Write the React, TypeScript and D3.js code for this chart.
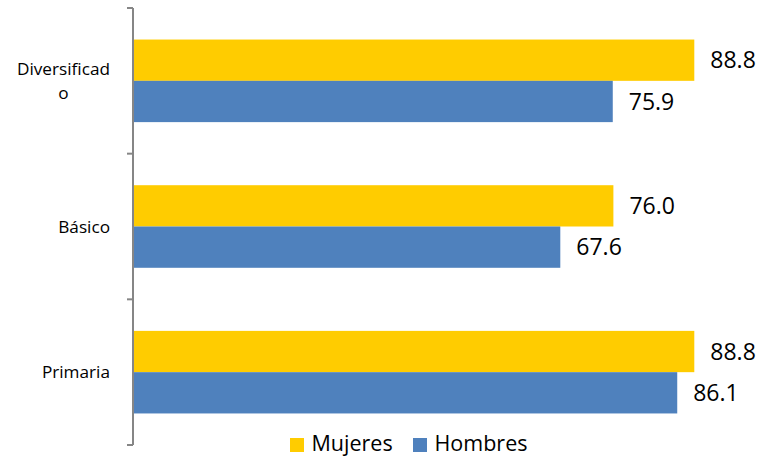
import React, { useEffect, useRef } from "react";
import * as d3 from "d3";

const categories = ["Diversificado", "Básico", "Primaria"];
const categoryLines = [["Diversificad", "o"], ["Básico"], ["Primaria"]];
const seriesNames = ["Mujeres", "Hombres"];
const mujeres = [88.8, 76.0, 88.8];
const hombres = [75.9, 67.6, 86.1];
const seriesColors = ["#FFCC00", "#4F81BD"];

const W = 759;
const H = 457;

export default function App() {
  const ref = useRef<SVGSVGElement>(null);
  useEffect(() => {
    const svg = d3.select(ref.current);
    svg.selectAll("*").remove();
    const x0 = 133;
    const x = d3.scaleLinear().domain([0, 88.8]).range([x0, 694.3]);
    const y = d3.scaleBand<string>().domain(categories).range([8, 445]).padding(0);
    const sub = d3
      .scaleBand<string>()
      .domain(seriesNames)
      .range([0, y.bandwidth()])
      .paddingInner(0)
      .paddingOuter(0.764);
    const values = [mujeres, hombres];
    const font = "'Open Sans', sans-serif";

    // bars
    categories.forEach((c, ci) => {
      seriesNames.forEach((s, si) => {
        const v = values[si][ci];
        const by = (y(c) as number) + (sub(s) as number);
        svg
          .append("rect")
          .attr("x", x(0))
          .attr("y", by)
          .attr("width", x(v) - x(0))
          .attr("height", sub.bandwidth())
          .attr("fill", seriesColors[si]);
        svg
          .append("text")
          .attr("x", x(v) + 16)
          .attr("y", by + sub.bandwidth() / 2)
          .attr("dy", "0.36em")
          .attr("font-family", font)
          .attr("font-size", 23)
          .attr("fill", "#000")
          .text(v.toFixed(1));
      });
    });

    // axis
    const axisColor = "#868686";
    svg
      .append("line")
      .attr("x1", x0)
      .attr("x2", x0)
      .attr("y1", 8)
      .attr("y2", 445)
      .attr("stroke", axisColor)
      .attr("stroke-width", 2);
    const tickYs = categories.map((c) => y(c) as number).concat([445]);
    tickYs.forEach((ty) => {
      svg
        .append("line")
        .attr("x1", x0 - 6)
        .attr("x2", x0)
        .attr("y1", ty)
        .attr("y2", ty)
        .attr("stroke", axisColor)
        .attr("stroke-width", 2);
    });

    // category labels
    const rightEdge = 110;
    const lineH = 23.5;
    categories.forEach((c, ci) => {
      const lines = categoryLines[ci];
      const cy = (y(c) as number) + y.bandwidth() / 2;
      const g = svg.append("g");
      const texts = lines.map((l, li) =>
        g
          .append("text")
          .attr("y", cy + (li - (lines.length - 1) / 2) * lineH)
          .attr("dy", "0.36em")
          .attr("font-family", font)
          .attr("font-size", 17.2)
          .attr("fill", "#000")
          .attr("text-anchor", "middle")
          .text(l)
      );
      const widths = texts.map((t) => (t.node() as SVGTextElement).getComputedTextLength());
      const maxW = d3.max(widths) || 0;
      texts.forEach((t) => t.attr("x", rightEdge - maxW / 2));
    });

    // legend
    const legend = svg.append("g");
    const lx = [290, 413];
    seriesNames.forEach((s, si) => {
      legend
        .append("rect")
        .attr("x", lx[si])
        .attr("y", 438)
        .attr("width", 14)
        .attr("height", 14)
        .attr("fill", seriesColors[si]);
      legend
        .append("text")
        .attr("x", lx[si] + 21.5)
        .attr("y", 451)
        .attr("font-family", font)
        .attr("font-size", 21.5)
        .attr("fill", "#000")
        .text(s);
    });
  }, []);
  return (
    <svg
      ref={ref}
      width={W}
      height={H}
      style={{ position: "absolute", left: 0, top: 0, background: "#fff" }}
    />
  );
}
